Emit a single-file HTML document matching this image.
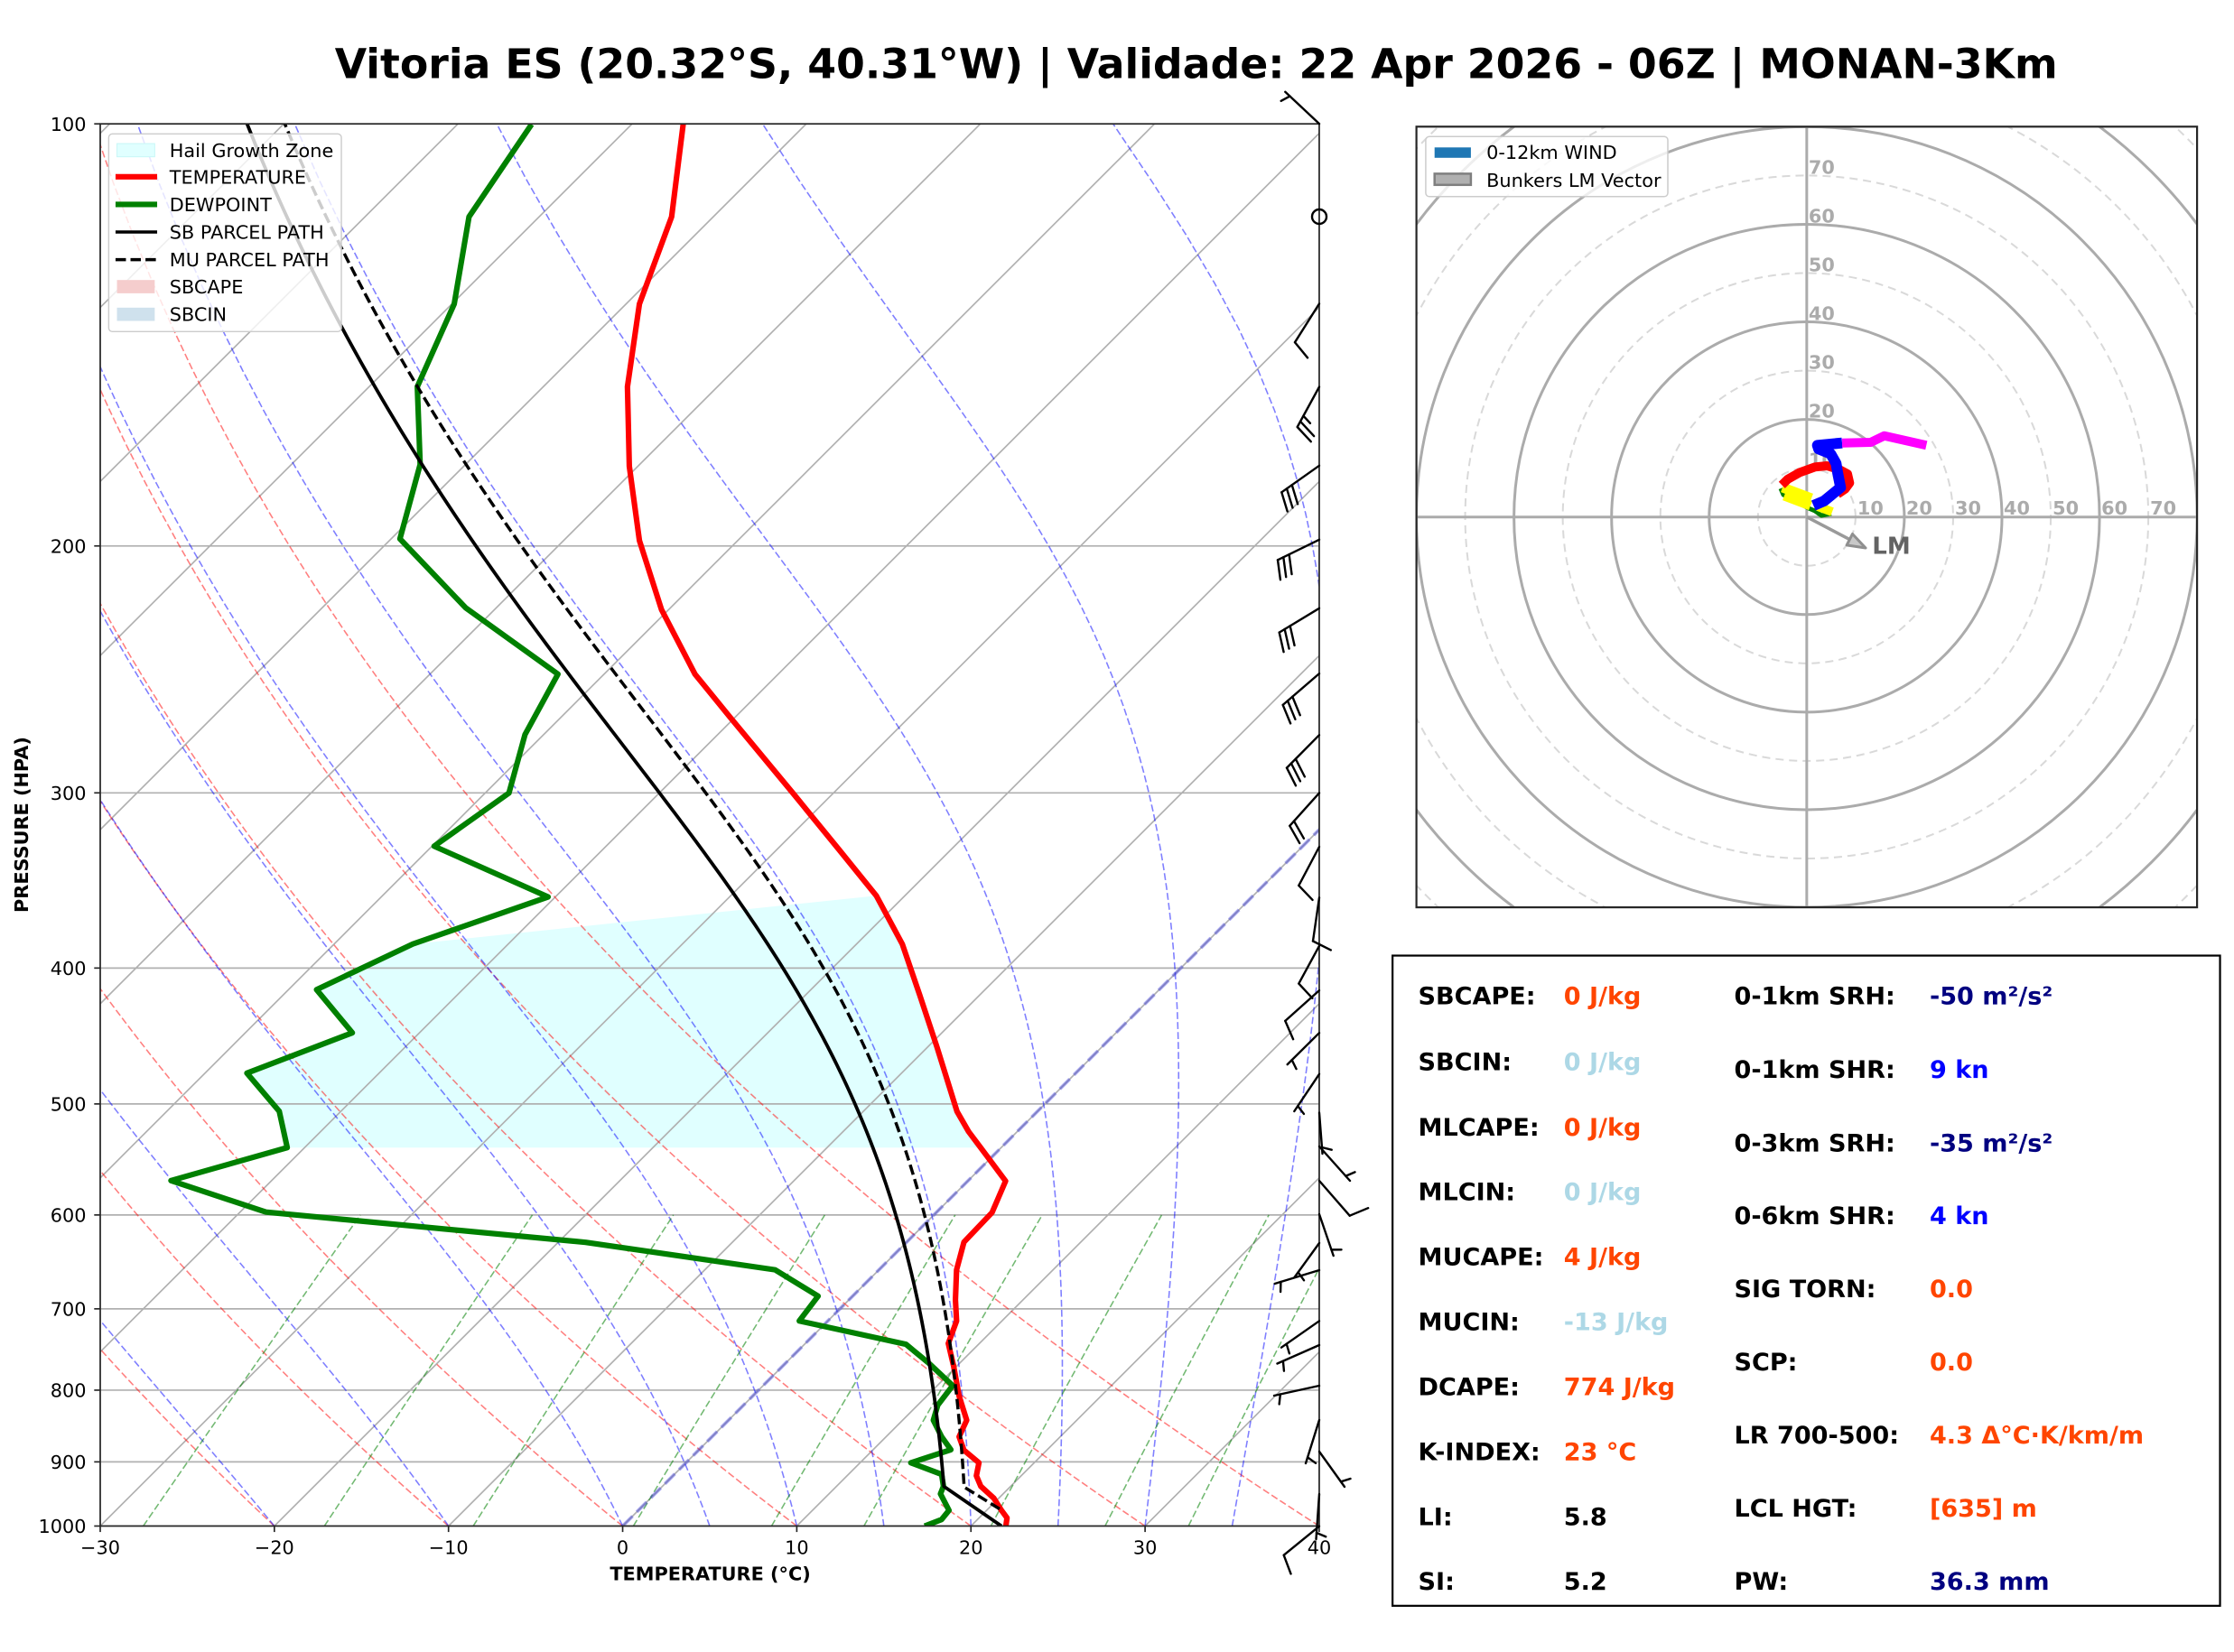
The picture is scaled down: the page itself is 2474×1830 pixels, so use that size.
<!DOCTYPE html>
<html><head><meta charset="utf-8">
<style>
html,body{margin:0;padding:0;background:#fff;}
svg{display:block;}
text{font-family:"DejaVu Sans","Liberation Sans",sans-serif;}
</style></head><body>
<svg xmlns="http://www.w3.org/2000/svg" width="2474" height="1830" viewBox="0 0 2474 1830">
<rect width="2474" height="1830" fill="#fff"/>
<defs>
<clipPath id="skc"><rect x="70.35" y="86.96" width="855.59" height="984.44"/></clipPath>
<clipPath id="hoc"><rect x="1568.6" y="140.3" width="864.5" height="864.8"/></clipPath>
</defs>

<text x="370.7" y="86.7" font-size="45.83" font-weight="bold" textLength="1908" lengthAdjust="spacingAndGlyphs">Vitoria ES (20.32°S, 40.31°W) | Validade: 22 Apr 2026 - 06Z | MONAN-3Km</text>

<g transform="scale(1.577806)">
 <g clip-path="url(#skc)">
  <polygon fill="#e0ffff" points="289.7,662.8 615.1,628.9 633.3,662.8 645.4,698.2 657.6,735.0 671.7,780.3 679.8,794.4 686.0,805.7 201.6,805.7 196.0,780.2 173.3,753.4 247.3,725.1 222.2,694.8"/>
  <g id="bg" fill="none"></g>
  <line x1="437.03" y1="1071.4" x2="1421.47" y2="86.96" stroke="#3333dd" stroke-opacity="0.4" stroke-width="2.4" stroke-dasharray="9.8 4.2"/>
  <polyline fill="none" stroke="#ff0000" stroke-width="3.9" stroke-linejoin="round" points="479.5,87.3 471.4,152.2 448.8,213.4 440.4,271.5 441.7,327.3 448.8,379.5 464.3,428.0 487.8,473.3 512.0,503.0 556.5,556.8 588.8,596.4 615.1,628.9 633.3,662.8 645.4,698.2 657.6,735.0 671.7,780.3 679.8,794.4 692.4,811.2 705.8,829.2 696.3,851.3 676.6,872.0 671.4,891.5 670.6,912.6 671.4,927.4 665.6,943.2 669.3,959.0 673.2,980.2 678.5,997.1 673.2,1008.7 676.6,1018.2 687.1,1027.0 685.3,1036.1 688.4,1043.5 697.6,1051.9 702.9,1060.4 706.8,1065.7 706.0,1071.4"/>
  <polyline fill="none" stroke="#008000" stroke-width="3.9" stroke-linejoin="round" points="373.1,87.3 329.2,152.2 318.8,213.4 292.9,271.5 294.9,326.1 280.7,378.3 326.9,426.8 391.6,473.3 368.5,515.7 357.2,556.8 304.7,594.1 384.7,629.7 289.7,662.8 222.2,694.8 247.3,725.1 173.3,753.4 196.0,780.2 201.6,805.7 120.0,828.9 186.7,851.0 411.0,872.2 544.0,891.5 574.2,910.0 561.0,927.4 635.9,943.8 651.7,956.9 668.7,972.8 658.2,986.5 655.1,997.1 660.9,1008.7 667.4,1017.8 639.3,1027.0 660.9,1035.1 662.2,1043.5 660.1,1048.8 666.1,1060.4 660.9,1066.8 649.0,1071.4"/>
  <polyline id="sbp" fill="none" stroke="#000" stroke-width="2.4" stroke-linejoin="round" points="173.3,87.3 186.2,111.5 239.6,227.9 263.8,271.5 294.5,324.9 328.5,375.9 376.6,443.6 409.0,486.0 463.5,556.8 514.1,627.5 562.6,698.2 603.0,780.2 615.1,811.4 629.3,853.4 642.5,904.1 653.0,959.0 658.2,1001.3 661.6,1035.1 663.5,1043.5 685.8,1060.4 702.9,1071.4"/>
  <polyline id="mup" fill="none" stroke="#000" stroke-width="2.2" stroke-dasharray="7.3 3.2" stroke-linejoin="round" points="199.2,87.3 219.4,130.9 239.6,174.5 292.9,276.4 325.3,324.9 375.3,397.7 410.2,443.6 483.7,534.1 532.2,610.5 580.7,684.1 621.1,763.3 637.3,811.4 649.0,855.6 663.5,912.6 671.4,963.3 673.2,997.1 676.6,1041.4 680.6,1044.6 701.6,1059.4"/>
 </g>

 <!-- skew-T legend -->
 <rect x="76.3" y="94.0" width="163.3" height="138.8" rx="2.5" fill="#fff" fill-opacity="0.8" stroke="#cccccc" stroke-width="0.9"/>
 <rect x="82.1" y="100.8" width="26.5" height="9.3" fill="#e0ffff" stroke="#c6f6f6" stroke-width="0.6"/>
 <line x1="81.1" y1="124.1" x2="110.3" y2="124.1" stroke="#ff0000" stroke-width="3.9"/>
 <line x1="81.1" y1="143.5" x2="110.3" y2="143.5" stroke="#008000" stroke-width="3.9"/>
 <line x1="81.1" y1="162.9" x2="110.3" y2="162.9" stroke="#000" stroke-width="2.2"/>
 <line x1="81.1" y1="182.3" x2="110.3" y2="182.3" stroke="#000" stroke-width="2.2" stroke-dasharray="7.3 3.2"/>
 <rect x="82.1" y="196.6" width="26.5" height="9.3" fill="#f5cdcd"/>
 <rect x="82.1" y="216.0" width="26.5" height="9.3" fill="#cfe1ed"/>
 <g font-size="13.2">
  <text x="119" y="110.2">Hail Growth Zone</text>
  <text x="119" y="128.9">TEMPERATURE</text>
  <text x="119" y="148.3">DEWPOINT</text>
  <text x="119" y="167.7">SB PARCEL PATH</text>
  <text x="119" y="187.1">MU PARCEL PATH</text>
  <text x="119" y="206.0">SBCAPE</text>
  <text x="119" y="225.4">SBCIN</text>
 </g>

 <!-- spines -->
 <rect x="70.35" y="86.96" width="855.59" height="984.44" fill="none" stroke="#262626" stroke-width="1.1"/>
 <g stroke="#262626" stroke-width="1.06">
  <line x1="66.1" y1="86.96" x2="70.35" y2="86.96"/>
  <line x1="66.1" y1="383.3" x2="70.35" y2="383.3"/>
  <line x1="66.1" y1="556.65" x2="70.35" y2="556.65"/>
  <line x1="66.1" y1="679.65" x2="70.35" y2="679.65"/>
  <line x1="66.1" y1="775.05" x2="70.35" y2="775.05"/>
  <line x1="66.1" y1="853.0" x2="70.35" y2="853.0"/>
  <line x1="66.1" y1="918.91" x2="70.35" y2="918.91"/>
  <line x1="66.1" y1="976.0" x2="70.35" y2="976.0"/>
  <line x1="66.1" y1="1026.35" x2="70.35" y2="1026.35"/>
  <line x1="66.1" y1="1071.4" x2="70.35" y2="1071.4"/>
  <line x1="70.35" y1="1071.4" x2="70.35" y2="1075.6"/>
  <line x1="192.57" y1="1071.4" x2="192.57" y2="1075.6"/>
  <line x1="314.8" y1="1071.4" x2="314.8" y2="1075.6"/>
  <line x1="437.03" y1="1071.4" x2="437.03" y2="1075.6"/>
  <line x1="559.25" y1="1071.4" x2="559.25" y2="1075.6"/>
  <line x1="681.48" y1="1071.4" x2="681.48" y2="1075.6"/>
  <line x1="803.71" y1="1071.4" x2="803.71" y2="1075.6"/>
  <line x1="925.94" y1="1071.4" x2="925.94" y2="1075.6"/>
 </g>
 <g font-size="13.2" text-anchor="end">
  <text x="60.5" y="91.8">100</text>
  <text x="60.5" y="388.1">200</text>
  <text x="60.5" y="561.5">300</text>
  <text x="60.5" y="684.5">400</text>
  <text x="60.5" y="779.9">500</text>
  <text x="60.5" y="857.8">600</text>
  <text x="60.5" y="923.7">700</text>
  <text x="60.5" y="980.8">800</text>
  <text x="60.5" y="1031.2">900</text>
  <text x="60.5" y="1076.2">1000</text>
 </g>
 <g font-size="13.2" text-anchor="middle">
  <text x="70.35" y="1091.2">−30</text>
  <text x="192.57" y="1091.2">−20</text>
  <text x="314.8" y="1091.2">−10</text>
  <text x="437.03" y="1091.2">0</text>
  <text x="559.25" y="1091.2">10</text>
  <text x="681.48" y="1091.2">20</text>
  <text x="803.71" y="1091.2">30</text>
  <text x="925.94" y="1091.2">40</text>
 </g>
 <text x="498.5" y="1109.3" font-size="13.2" font-weight="bold" text-anchor="middle">TEMPERATURE (°C)</text>
 <text transform="translate(19.5,579) rotate(-90)" font-size="13.2" font-weight="bold" text-anchor="middle">PRESSURE (HPA)</text>

 <!-- stats box -->
 <rect x="977.4" y="670.9" width="580.8" height="456.5" fill="#fff" stroke="#000" stroke-width="1.4"/>
 <g font-size="17.16" font-weight="bold">
  <text x="995.4" y="705.2">SBCAPE:</text><text x="1097.6" y="705.2" fill="#ff4500">0 J/kg</text>
  <text x="995.4" y="751.5">SBCIN:</text><text x="1097.6" y="751.5" fill="#add8e6">0 J/kg</text>
  <text x="995.4" y="797.2">MLCAPE:</text><text x="1097.6" y="797.2" fill="#ff4500">0 J/kg</text>
  <text x="995.4" y="842.7">MLCIN:</text><text x="1097.6" y="842.7" fill="#add8e6">0 J/kg</text>
  <text x="995.4" y="888.4">MUCAPE:</text><text x="1097.6" y="888.4" fill="#ff4500">4 J/kg</text>
  <text x="995.4" y="933.9">MUCIN:</text><text x="1097.6" y="933.9" fill="#add8e6">-13 J/kg</text>
  <text x="995.4" y="979.6">DCAPE:</text><text x="1097.6" y="979.6" fill="#ff4500">774 J/kg</text>
  <text x="995.4" y="1025.0">K-INDEX:</text><text x="1097.6" y="1025.0" fill="#ff4500">23 °C</text>
  <text x="995.4" y="1070.8">LI:</text><text x="1097.6" y="1070.8">5.8</text>
  <text x="995.4" y="1116.2">SI:</text><text x="1097.6" y="1116.2">5.2</text>

  <text x="1217.2" y="705.2">0-1km SRH:</text><text x="1354.4" y="705.2" fill="#000080">-50 m²/s²</text>
  <text x="1217.2" y="756.9">0-1km SHR:</text><text x="1354.4" y="756.9" fill="#0000ff">9 kn</text>
  <text x="1217.2" y="808.3">0-3km SRH:</text><text x="1354.4" y="808.3" fill="#000080">-35 m²/s²</text>
  <text x="1217.2" y="859.4">0-6km SHR:</text><text x="1354.4" y="859.4" fill="#0000ff">4 kn</text>
  <text x="1217.2" y="910.9">SIG TORN:</text><text x="1354.4" y="910.9" fill="#ff4500">0.0</text>
  <text x="1217.2" y="962.0">SCP:</text><text x="1354.4" y="962.0" fill="#ff4500">0.0</text>
  <text x="1217.2" y="1013.4">LR 700-500:</text><text x="1354.4" y="1013.4" fill="#ff4500">4.3 Δ°C·K/km/m</text>
  <text x="1217.2" y="1064.8">LCL HGT:</text><text x="1354.4" y="1064.8" fill="#ff4500">[635] m</text>
  <text x="1217.2" y="1116.2">PW:</text><text x="1354.4" y="1116.2" fill="#000080">36.3 mm</text>
 </g>
</g>

<!-- hodograph -->
<g clip-path="url(#hoc)" fill="none">
 <g stroke="#d9d9d9" stroke-width="2" stroke-dasharray="9 6">
  <circle cx="2000.85" cy="572.7" r="54.04"/>
  <circle cx="2000.85" cy="572.7" r="162.12"/>
  <circle cx="2000.85" cy="572.7" r="270.2"/>
  <circle cx="2000.85" cy="572.7" r="378.28"/>
  <circle cx="2000.85" cy="572.7" r="486.36"/>
  <circle cx="2000.85" cy="572.7" r="594.44"/>
 </g>
 <g stroke="#ababab" stroke-width="3">
  <circle cx="2000.85" cy="572.7" r="108.08"/>
  <circle cx="2000.85" cy="572.7" r="216.16"/>
  <circle cx="2000.85" cy="572.7" r="324.24"/>
  <circle cx="2000.85" cy="572.7" r="432.32"/>
  <circle cx="2000.85" cy="572.7" r="540.4"/>
  <line x1="1568.6" y1="572.7" x2="2433.1" y2="572.7"/>
  <line x1="2000.85" y1="140.3" x2="2000.85" y2="1005.1"/>
 </g>
</g>
<g font-size="20.8" font-weight="bold" fill="#ababab">
 <text x="2056.9" y="570.2">10</text>
 <text x="2110.9" y="570.2">20</text>
 <text x="2165.0" y="570.2">30</text>
 <text x="2219.0" y="570.2">40</text>
 <text x="2273.1" y="570.2">50</text>
 <text x="2327.1" y="570.2">60</text>
 <text x="2381.1" y="570.2">70</text>
 <text x="2002.85" y="516.7">10</text>
 <text x="2002.85" y="462.6">20</text>
 <text x="2002.85" y="408.6">30</text>
 <text x="2002.85" y="354.5">40</text>
 <text x="2002.85" y="300.5">50</text>
 <text x="2002.85" y="246.5">60</text>
 <text x="2002.85" y="192.4">70</text>
</g>
<g fill="none" stroke-linejoin="round">
 <polyline stroke="#008000" stroke-width="5" points="2028,569 2017,571 2010,566 2003,563 1975,548 1972,541"/>
 <polyline stroke="#ffff00" stroke-width="11" points="1974,540 2006,552"/>
 <polyline stroke="#ffff00" stroke-width="11" points="1976,549 2005,560"/>
 <polyline stroke="#ffff00" stroke-width="10" points="2013,561 2029,567"/>
 <polyline stroke="#ff0000" stroke-width="10" points="1973.3,537.3 1980,530.7 1993.3,523.3 2010,517.3 2023.3,516 2036.7,520 2046,525 2048.3,535 2043.3,541.7 2035,547.3"/>
 <polyline stroke="#0000ff" stroke-width="12" points="2008.3,560 2020,555 2038.3,540 2035,523.3 2033.3,513.3 2027.3,502.7 2014,497.3 2012.7,493.3 2040,490.7"/>
 <polyline stroke="#ff00ff" stroke-width="10" points="2040,490.7 2071.7,490 2086.7,482.7 2106.7,487.3 2133.3,493.3"/>
</g>
<line x1="2000.85" y1="572.7" x2="2050" y2="598.4" stroke="#9a9a9a" stroke-width="3.5"/>
<polygon points="2066,607 2045.1,603.9 2051.5,591.5" fill="#c8c8c8" stroke="#8f8f8f" stroke-width="3" stroke-linejoin="round"/>
<text x="2073.3" y="613.5" font-size="26" font-weight="bold" fill="#636363">LM</text>
<rect x="1578.9" y="151.2" width="268.1" height="66.6" rx="4" fill="#fff" fill-opacity="0.8" stroke="#cccccc" stroke-width="1.5"/>
<rect x="1588.7" y="163.3" width="40.2" height="11.5" fill="#1f77b4"/>
<rect x="1588.7" y="192.4" width="40.2" height="12.4" fill="#b0b0b0" stroke="#7f7f7f" stroke-width="2.5"/>
<text x="1646.1" y="176.1" font-size="20.83">0-12km WIND</text>
<text x="1646.1" y="207.1" font-size="20.83">Bunkers LM Vector</text>
<rect x="1568.6" y="140.3" width="864.5" height="864.8" fill="none" stroke="#262626" stroke-width="2.2"/>

<!-- wind barbs -->
<circle cx="1461" cy="240" r="8" fill="none" stroke="#000" stroke-width="2.4"/>
<g id="barbs" stroke="#000" stroke-width="2.4" fill="none" stroke-linecap="round"></g>
</svg>
<script>
(function(){
const NS='http://www.w3.org/2000/svg';
const bg=document.getElementById('bg');
function Y(p){return 1071.4-984.44*Math.log10(1000/p);}
function X(T,p){return 70.35+(T+30)*12.2227+(1071.4-Y(p));}
function path(g,pts,a){const e=document.createElementNS(NS,'path');let d='';pts.forEach((q,i)=>{d+=(i?'L':'M')+q[0].toFixed(2)+' '+q[1].toFixed(2);});e.setAttribute('d',d);for(const k in a)e.setAttribute(k,a[k]);g.appendChild(e);}
const grid={stroke:'#b0b0b0','stroke-width':1.06};
for(let p=100;p<=1000;p+=100)path(bg,[[70.35,Y(p)],[925.94,Y(p)]],grid);
for(let T=-170;T<=40;T+=10)path(bg,[[X(T,1000),Y(1000)],[X(T,100),Y(100)]],grid);
const P=[];for(let p=1000;p>=100;p-=10)P.push(p);
for(let T0=-30;T0<=40;T0+=10){const th=T0+273.15;path(bg,P.map(p=>[X(th*Math.pow(p/1000,0.28571)-273.15,p),Y(p)]),{stroke:'#ff0000','stroke-opacity':0.5,'stroke-width':1.0,'stroke-dasharray':'4.9 2.1'});}
function dTdp(p,T){const e=6.112*Math.exp(17.67*(T-273.15)/(T-29.65));const r=0.6219569*e/(p-e);const Lv=2.50084e6,Rd=287.04749;return (Rd*T+Lv*r)/(1004.6662+Lv*Lv*r*0.6219569/(Rd*T*T))/p;}
function moist(p0,T0c,pend){const arr=[];let T=T0c+273.15,p=p0;arr.push(T);const h=-1;while(p>pend){const k1=dTdp(p,T),k2=dTdp(p+h/2,T+h/2*k1),k3=dTdp(p+h/2,T+h/2*k2),k4=dTdp(p+h,T+h*k3);T+=h/6*(k1+2*k2+2*k3+k4);p+=h;arr.push(T);}return arr;}
[-30,-20,-10,0,5,10,15,20,25,30,35,40].forEach(T0=>{const a=moist(1000,T0,100);const pts=[];for(let i=0;i<a.length;i+=10)pts.push([X(a[i]-273.15,1000-i),Y(1000-i)]);path(bg,pts,{stroke:'#0000ff','stroke-opacity':0.5,'stroke-width':1.0,'stroke-dasharray':'4.9 2.1'});});
[0.0004,0.001,0.002,0.004,0.007,0.01,0.016,0.024,0.032].forEach(w=>{const pts=[];for(let p=1000;p>=600;p-=20){const e=w*p/(0.6219569+w);const l=Math.log(e/6.112);const Td=243.5*l/(17.67-l);pts.push([X(Td,p),Y(p)]);}path(bg,pts,{stroke:'#008000','stroke-opacity':0.55,'stroke-width':1.0,'stroke-dasharray':'4.9 2.1'});});
// parcel fitting
function pOf(y){return 1000/Math.pow(10,(1071.4-y)/984.44);}
function fitParcel(id,start,pL,TL0,pts){
 try{
 let best=TL0,be=1e18;
 for(let t=TL0-3;t<=TL0+3;t+=0.05){const a=moist(pL,t,95);let e=0;pts.forEach(q=>{const p=pOf(q[1]);const idx=pL-p;const i=Math.floor(idx);const f=idx-i;if(i<0||i+1>=a.length)return;const Tk=a[i]*(1-f)+a[i+1]*f;const x=X(Tk-273.15,p);e+=(x-q[0])*(x-q[0]);});if(e<be){be=e;best=t;}}
 const a=moist(pL,best,95);const out=[start,[X(best,pL),Y(pL)]];for(let i=3;i<a.length;i+=3){const p=pL-i;out.push([X(a[i]-273.15,p),Y(p)]);}
 document.getElementById(id).setAttribute('points',out.map(q=>q[0].toFixed(2)+','+q[1].toFixed(2)).join(' '));
 }catch(err){}
}
fitParcel('sbp',[702.9,1071.4],937,16.32,[[173.3,87.3],[239.6,227.9],[263.8,271.5],[294.5,324.9],[328.5,375.9],[376.6,443.6],[409.0,486.0],[463.5,556.8],[514.1,627.5],[562.6,698.2],[603.0,780.2],[615.1,811.4],[629.3,853.4],[642.5,904.1],[653.0,959.0],[658.2,1001.3],[661.6,1035.1]]);
fitParcel('mup',[701.6,1059.4],938,17.67,[[199.2,87.3],[292.9,276.4],[325.3,324.9],[375.3,397.7],[410.2,443.6],[483.7,534.1],[532.2,610.5],[580.7,684.1],[621.1,763.3],[637.3,811.4],[649.0,855.6],[663.5,912.6],[671.4,963.3],[673.2,997.1]]);
// barbs
const gb=document.getElementById('barbs');
function ln(x1,y1,x2,y2){const e=document.createElementNS(NS,'line');e.setAttribute('x1',x1.toFixed(2));e.setAttribute('y1',y1.toFixed(2));e.setAttribute('x2',x2.toFixed(2));e.setAttribute('y2',y2.toFixed(2));gb.appendChild(e);}
const B=[[137.1,1423.3,101.8,0,1],[336.4,1434,379.2,1,0],[428.5,1436.7,473,2,1],[515.8,1419.3,545.3,3,0],[597.8,1415,620.3,3,0],[673.8,1416.7,700.6,3,0],[746.1,1420.7,780.9,3,0],[814.2,1425,850.6,3,0],[878.4,1428.3,914.8,2,0],[938,1438.3,980.9,1,0],[994.3,1454,1042.5,1,0],[1047.8,1438.3,1089.6,1,0],[1097.1,1423.3,1130.9,1,0],[1144.2,1425.7,1179.1,0,1],[1189.8,1433.3,1231,0,1],[1232.6,1464.5,1278,0,1],[1270,1495,1308,0,1],[1308,1494.7,1346.7,1,0],[1345,1476.7,1391,0,1],[1377,1433.5,1415,0,1],[1407,1411.7,1422,0,1],[1463.3,1419,1492.7,0,1],[1490,1414.5,1510.5,0,1],[1535,1411,1546,0,1],[1573,1446,1621,0,1],[1608,1489,1647,0,1],[1655,1457.5,1705,0,1],[1690.7,1421.7,1722.7,1,0]];
B.forEach(b=>{const bx=1461,by=b[0],tx=b[1],ty=b[2];ln(bx,by,tx,ty);const L=Math.hypot(tx-bx,ty-by),ux=(tx-bx)/L,uy=(ty-by)/L,px=uy,py=-ux;let s=0;for(let i=0;i<b[3];i++){const sx=tx-ux*s,sy=ty-uy*s;ln(sx,sy,sx+21*px+7*ux,sy+21*py+7*uy);s+=7;}if(b[4]){if(b[3]==0)s=7;const sx=tx-ux*s,sy=ty-uy*s;ln(sx,sy,sx+10.5*px+3.5*ux,sy+10.5*py+3.5*uy);}});
})();
</script>
</body></html>
